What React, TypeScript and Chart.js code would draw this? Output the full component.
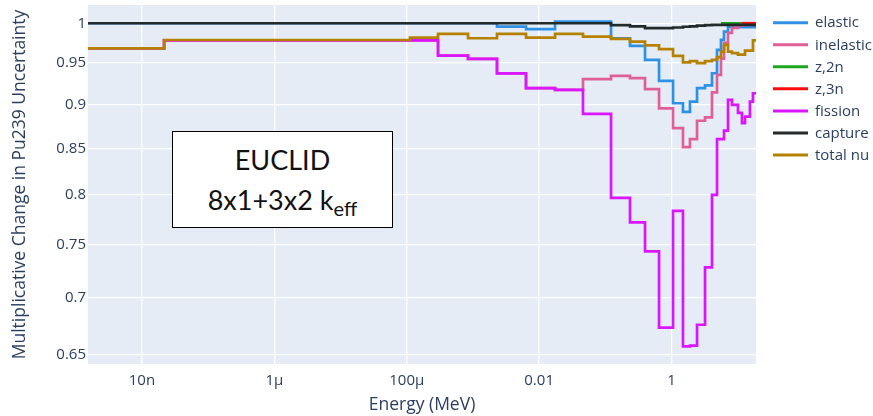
import React, { useEffect, useRef } from "react";
import { Chart, registerables } from "chart.js";

Chart.register(...registerables);

// Energy group boundaries (MeV), lowest to highest
const ENERGY_EDGES = [
  1.53e-9, 2.16e-8, 1.12e-4, 2.97e-4, 8.43e-4, 2.31e-3, 6.34e-3, 1.74e-2, 4.6e-2,
  0.122, 0.236, 0.398, 0.648, 1.054, 1.49, 1.9, 2.43, 3.21, 4.09, 4.87,
  5.59, 6.21, 7.14, 8.2, 10.1, 11.6, 12.9, 15.3, 17.0, 18.9,
];

// Multiplicative change per group, one value per group (null = no data)
const ELASTIC = [
  1.0, 1.0, 1.0, 1.0, 1.0, 0.9956, 0.9924, 1.002, 1.002,
  0.9807, 0.971, 0.9535, 0.9278, 0.9013, 0.8912, 0.9032, 0.9191, 0.9224, 0.9371,
  0.9659, 0.9786, 0.9892, 0.9952, 0.9971, 0.995, 0.995, 0.995, 0.995, 0.995,
];
const INELASTIC = [
  0.968, 0.978, 0.978, 0.9588, 0.9547, 0.937, 0.9191, 0.9171,
  0.9299, 0.9339, 0.9311, 0.9179, 0.8954, 0.8727, 0.8513, 0.8602, 0.881, 0.885, 0.9141,
  0.9351, 0.955, 0.975, 0.9875, 0.9939, 0.997, 0.998, 0.998, 0.998, 0.998,
];
const Z2N = [
  null, null, null, null, null, null, null, null, null, null,
  null, null, null, null, null, null, null, null, null, null,
  1.0, 1.0, 1.0, 1.0, 1.0, 1.0, 1.0, 1.0, 1.0,
];
const Z3N = [
  null, null, null, null, null, null, null, null, null, null,
  null, null, null, null, null, null, null, null, null, null,
  null, null, null, null, null, 1.0, 1.0, 1.0, 1.0,
];
const FISSION = [
  0.968, 0.978, 0.978, 0.9588, 0.9547, 0.937, 0.9191, 0.9171,
  0.889, 0.797, 0.772, 0.7436, 0.6733, 0.7836, 0.6571, 0.6578, 0.6759, 0.7283, 0.8001,
  0.8602, 0.8602, 0.8698, 0.9052, 0.8995, 0.8902, 0.8784, 0.8857, 0.9032, 0.9131,
];
const CAPTURE = [
  1.0, 1.0, 1.0, 1.0, 1.0, 1.0, 1.0, 1.0, 1.0,
  0.9975, 0.996, 0.9937, 0.9937, 0.9945, 0.9955, 0.996, 0.997, 0.9975,
  0.998, 0.998, 0.998, 0.998, 0.998, 0.998, 0.998, 0.998, 0.998, 0.998, 0.998,
];
const TOTAL_NU = [
  0.968, 0.9785, 0.9815, 0.9862, 0.9807, 0.9862, 0.9815, 0.9862, 0.9827,
  0.98, 0.9764, 0.9716, 0.9669, 0.9584, 0.9504, 0.952, 0.9494, 0.952, 0.9535, 0.957,
  0.9638, 0.9722, 0.9638, 0.962, 0.96, 0.96, 0.9651, 0.9651, 0.978,
];

const SERIES_LABELS = ["elastic", "inelastic", "z,2n", "z,3n", "fission", "capture", "total nu"];
const SERIES_VALUES = [ELASTIC, INELASTIC, Z2N, Z3N, FISSION, CAPTURE, TOTAL_NU];
const SERIES_COLORS = ["#2E91E5", "#E15F99", "#1CA71C", "#FB0D0D", "#DA16FF", "#222A2A", "#B68100"];

const X_TICKS = [1e-8, 1e-6, 1e-4, 1e-2, 1];
const X_TICK_LABELS = ["10n", "1μ", "100μ", "0.01", "1"];
const Y_TICKS = [0.65, 0.7, 0.75, 0.8, 0.85, 0.9, 0.95, 1];
const Y_TICK_LABELS = ["0.65", "0.7", "0.75", "0.8", "0.85", "0.9", "0.95", "1"];

const X_MIN = 1.53e-9;
const X_MAX = 18.9;
const Y_MIN = 0.6423;
const Y_MAX = 1.024;

const FONT = "'Open Sans', verdana, arial, sans-serif";
const TEXT_COLOR = "#2a3f5f";

// One point at the lower edge of each group, plus a closing point at the top edge
function stepPoints(values: (number | null)[]) {
  const pts: { x: number; y: number }[] = [];
  values.forEach((v, i) => {
    if (v !== null) pts.push({ x: ENERGY_EDGES[i], y: v });
  });
  const last = values.length - 1;
  if (values[last] !== null) pts.push({ x: ENERGY_EDGES[last + 1], y: values[last] as number });
  return pts;
}

const plotBackground = {
  id: "plotBackground",
  beforeDraw(chart: any) {
    const { ctx, chartArea, width, height } = chart;
    ctx.save();
    ctx.fillStyle = "#ffffff";
    ctx.fillRect(0, 0, width, height);
    ctx.fillStyle = "#E5ECF6";
    ctx.fillRect(chartArea.left, chartArea.top, chartArea.right - chartArea.left, chartArea.bottom - chartArea.top);
    ctx.restore();
  },
};

const sideLegend = {
  id: "sideLegend",
  afterDraw(chart: any) {
    const ctx = chart.ctx;
    ctx.save();
    chart.data.datasets.forEach((ds: any, i: number) => {
      const y = 22.7 + i * 22.05;
      ctx.strokeStyle = ds.borderColor;
      ctx.lineWidth = 3;
      ctx.beginPath();
      ctx.moveTo(773, y);
      ctx.lineTo(808, y);
      ctx.stroke();
      ctx.fillStyle = TEXT_COLOR;
      ctx.font = `15px ${FONT}`;
      ctx.textBaseline = "middle";
      ctx.textAlign = "left";
      ctx.fillText(ds.label, 815, y + 0.5);
    });
    ctx.restore();
  },
};

export default function App() {
  const canvasRef = useRef<HTMLCanvasElement | null>(null);

  useEffect(() => {
    if (!canvasRef.current) return;
    const n = SERIES_LABELS.length;
    const chart = new Chart(canvasRef.current, {
      type: "line",
      data: {
        datasets: SERIES_LABELS.map((label, i) => ({
          label,
          data: stepPoints(SERIES_VALUES[i]),
          borderColor: SERIES_COLORS[i],
          backgroundColor: SERIES_COLORS[i],
          borderWidth: 2.7,
          pointRadius: 0,
          pointHoverRadius: 0,
          stepped: "before" as const,
          fill: false,
          order: n - 1 - i,
        })),
      },
      options: {
        animation: false,
        responsive: false,
        devicePixelRatio: 1,
        events: [],
        layout: { padding: { left: 0, right: 117, top: 5, bottom: 0 } },
        plugins: { legend: { display: false }, tooltip: { enabled: false } },
        scales: {
          x: {
            type: "logarithmic",
            min: X_MIN,
            max: X_MAX,
            afterBuildTicks: (s: any) => {
              s.ticks = X_TICKS.map((v) => ({ value: v }));
            },
            afterFit: (s: any) => {
              s.height = 52;
              s.paddingLeft = 0;
              s.paddingRight = 0;
            },
            ticks: {
              autoSkip: false,
              maxRotation: 0,
              padding: 8,
              color: TEXT_COLOR,
              font: { family: FONT, size: 15 },
              callback: (_v: any, i: number) => X_TICK_LABELS[i],
            },
            grid: { color: "#ffffff", lineWidth: 1.3, drawTicks: false },
            border: { display: false },
            title: {
              display: true,
              text: "Energy (MeV)",
              color: TEXT_COLOR,
              font: { family: FONT, size: 17.5 },
              padding: { top: 0, bottom: 0 },
            },
          },
          y: {
            type: "logarithmic",
            min: Y_MIN,
            max: Y_MAX,
            afterBuildTicks: (s: any) => {
              s.ticks = Y_TICKS.map((v) => ({ value: v }));
            },
            afterFit: (s: any) => {
              s.width = 88;
              s.paddingTop = 0;
              s.paddingBottom = 0;
            },
            ticks: {
              autoSkip: false,
              padding: 2,
              color: TEXT_COLOR,
              font: { family: FONT, size: 15 },
              callback: (_v: any, i: number) => Y_TICK_LABELS[i],
            },
            grid: { color: "#ffffff", lineWidth: 1.3, drawTicks: false },
            border: { display: false },
            title: {
              display: true,
              text: "Multiplicative Change in Pu239 Uncertainty",
              color: TEXT_COLOR,
              font: { family: FONT, size: 17.5 },
              padding: { top: 10, bottom: 0 },
            },
          },
        },
      },
      plugins: [plotBackground, sideLegend],
    } as any);
    return () => chart.destroy();
  }, []);

  return (
    <div style={{ position: "absolute", left: 0, top: 0, width: 873, height: 416, background: "#fff" }}>
      <canvas ref={canvasRef} width={873} height={416} style={{ display: "block" }} />
      <div
        style={{
          position: "absolute",
          left: 172,
          top: 131,
          width: 221,
          height: 97,
          boxSizing: "border-box",
          border: "1.5px solid #000",
          background: "#fff",
          fontFamily: "Lato, 'Open Sans', sans-serif",
          color: "#111",
        }}
      >
        <div style={{ position: "absolute", left: 0, right: 0, top: 7.5, height: 40, lineHeight: "40px", fontSize: 27, textAlign: "center", whiteSpace: "nowrap" }}>
          EUCLID
        </div>
        <div style={{ position: "absolute", left: 0, right: 0, top: 47.5, height: 40, lineHeight: "40px", fontSize: 27, textAlign: "center", whiteSpace: "nowrap" }}>
          8x1+3x2 k<span style={{ fontSize: 20, position: "relative", top: 6 }}>eff</span>
        </div>
      </div>
    </div>
  );
}
